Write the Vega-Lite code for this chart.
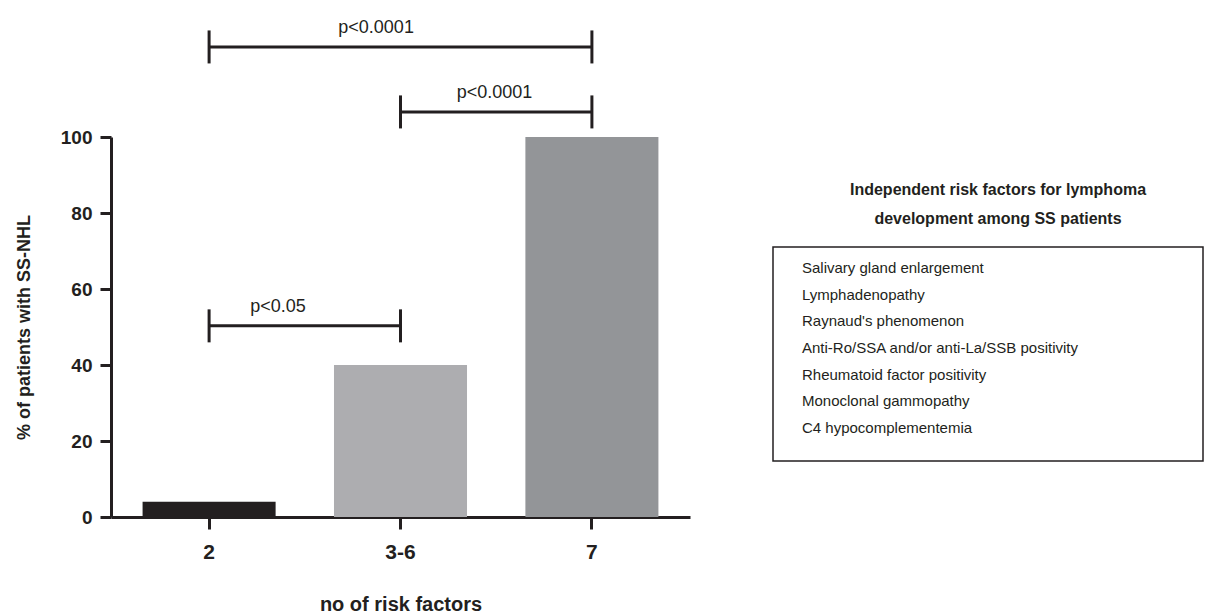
{
  "$schema": "https://vega.github.io/schema/vega-lite/v6.json",
  "padding": {"left": 15, "top": 18, "right": 5, "bottom": 0},
  "background": "white",
  "config": {
    "font": "Liberation Sans",
    "view": {"stroke": null},
    "axis": {"grid": false, "domainColor": "#231f20", "tickColor": "#231f20", "labelColor": "#231f20", "titleColor": "#231f20", "labelFont": "Liberation Sans", "titleFont": "Liberation Sans"}
  },
  "datasets": {
    "bars": [
      {"k": "2", "pct": 4},
      {"k": "3-6", "pct": 40},
      {"k": "7", "pct": 100}
    ],
    "brackets": [
      {"id": 1, "from": "2", "to": "3-6", "y": 50.3, "label": "p<0.05"},
      {"id": 2, "from": "3-6", "to": "7", "y": 106.6, "label": "p<0.0001"},
      {"id": 3, "from": "2", "to": "7", "y": 123.7, "label": "p<0.0001"}
    ],
    "heading": [
      {"n": 1, "line": "Independent risk factors for lymphoma"},
      {"n": 2, "line": "development among SS patients"}
    ],
    "factors": [
      {"n": 1, "factor": "Salivary gland enlargement"},
      {"n": 2, "factor": "Lymphadenopathy"},
      {"n": 3, "factor": "Raynaud's phenomenon"},
      {"n": 4, "factor": "Anti-Ro/SSA and/or anti-La/SSB positivity"},
      {"n": 5, "factor": "Rheumatoid factor positivity"},
      {"n": 6, "factor": "Monoclonal gammopathy"},
      {"n": 7, "factor": "C4 hypocomplementemia"}
    ]
  },
  "hconcat": [
    {
      "width": 579,
      "height": 380,
      "encoding": {
        "x": {
          "type": "nominal",
          "scale": {"type": "band", "domain": ["2", "3-6", "7"], "paddingInner": 0.305, "paddingOuter": 0.165},
          "axis": {"title": "no of risk factors", "labelAngle": 0, "labelFontSize": 21, "labelFontWeight": "bold", "labelPadding": 12, "domainWidth": 3, "tickWidth": 3, "tickSize": 12, "titleFontSize": 20, "titleFontWeight": "bold", "titlePadding": 32}
        },
        "y": {
          "type": "quantitative",
          "scale": {"domain": [0, 100], "nice": false, "zero": true},
          "axis": {"title": "% of patients with SS-NHL", "values": [0, 20, 40, 60, 80, 100], "labelFontSize": 19, "labelFontWeight": "bold", "labelPadding": 8, "domainWidth": 3, "tickWidth": 3, "tickSize": 11, "titleFontSize": 18, "titleFontWeight": "bold", "titlePadding": 27}
        }
      },
      "layer": [
        {
          "data": {"name": "bars"},
          "mark": {"type": "bar"},
          "encoding": {
            "x": {"field": "k"},
            "y": {"field": "pct"},
            "color": {"field": "k", "type": "nominal", "scale": {"domain": ["2", "3-6", "7"], "range": ["#231f20", "#adadb0", "#939598"]}, "legend": null}
          }
        },
        {
          "data": {"name": "brackets"},
          "mark": {"type": "rule", "color": "#231f20", "strokeWidth": 3},
          "encoding": {
            "x": {"field": "from"},
            "x2": {"field": "to"},
            "y": {"field": "y"}
          }
        },
        {
          "data": {"name": "brackets"},
          "transform": [{"fold": ["from", "to"], "as": ["end", "cat"]}],
          "mark": {"type": "point", "shape": "M0,-1L0,1", "size": 1089, "filled": false, "stroke": "#231f20", "strokeWidth": 3, "opacity": 1},
          "encoding": {
            "x": {"field": "cat"},
            "y": {"field": "y"}
          }
        },
        {
          "data": {"name": "brackets"},
          "transform": [{"filter": "datum.id == 1"}],
          "mark": {"type": "text", "fontSize": 18, "color": "#231f20", "dx": 69, "dy": -14, "baseline": "alphabetic"},
          "encoding": {"x": {"field": "from"}, "y": {"field": "y"}, "text": {"field": "label"}}
        },
        {
          "data": {"name": "brackets"},
          "transform": [{"filter": "datum.id == 2"}],
          "mark": {"type": "text", "fontSize": 18, "color": "#231f20", "dx": 94, "dy": -14, "baseline": "alphabetic"},
          "encoding": {"x": {"field": "from"}, "y": {"field": "y"}, "text": {"field": "label"}}
        },
        {
          "data": {"name": "brackets"},
          "transform": [{"filter": "datum.id == 3"}],
          "mark": {"type": "text", "fontSize": 18, "color": "#231f20", "dx": 167, "dy": -14, "baseline": "alphabetic"},
          "encoding": {"x": {"field": "from"}, "y": {"field": "y"}, "text": {"field": "label"}}
        }
      ]
    },
    {
      "vconcat": [
        {
          "width": 430,
          "height": 90,
          "data": {"name": "heading"},
          "mark": {"type": "text", "align": "center", "fontSize": 16, "fontWeight": "bold", "color": "#231f20"},
          "encoding": {
            "x": {"datum": 0.5, "type": "quantitative", "scale": {"domain": [0, 1], "range": [10, 440]}, "axis": null},
            "y": {"field": "line", "type": "nominal", "sort": {"field": "n"}, "scale": {"type": "point", "padding": 0, "range": [53, 82]}, "axis": null},
            "text": {"field": "line"}
          }
        },
        {
          "width": 430,
          "height": 214,
          "view": {"stroke": "#231f20", "strokeWidth": 1.5},
          "data": {"name": "factors"},
          "mark": {"type": "text", "align": "left", "fontSize": 15, "color": "#231f20"},
          "encoding": {
            "x": {"datum": 0, "type": "quantitative", "scale": {"domain": [0, 1], "range": [29, 430]}, "axis": null},
            "y": {"field": "factor", "type": "nominal", "sort": {"field": "n"}, "scale": {"type": "point", "padding": 0, "range": [21, 181]}, "axis": null},
            "text": {"field": "factor"}
          }
        }
      ],
      "spacing": 19
    }
  ],
  "spacing": 82
}
